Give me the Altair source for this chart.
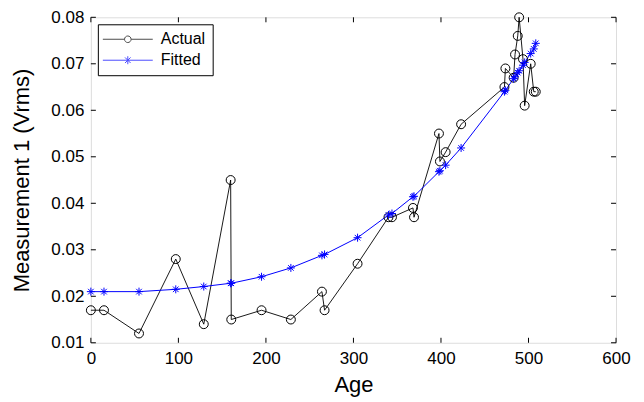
import altair as alt
import pandas as pd

# Data
age = [0, 15, 55, 97, 129, 159.7, 160.4, 195, 228.5, 264, 267, 304.7,
       340, 344, 368, 369.2, 397.7, 398.8, 405.3, 423,
       472.5, 473.6, 483, 484.6, 487.7, 489.3, 493.7, 495.6, 502.5, 506, 508.3]
actual = [0.017, 0.017, 0.012, 0.028, 0.014, 0.045, 0.015, 0.017, 0.015, 0.021, 0.017, 0.027,
          0.037, 0.037, 0.039, 0.037, 0.055, 0.049, 0.051, 0.057,
          0.065, 0.069, 0.067, 0.072, 0.076, 0.080, 0.071, 0.061, 0.070, 0.064, 0.064]
fitted = [0.0210, 0.0210, 0.0210, 0.0215, 0.0221, 0.0228, 0.0228, 0.0242, 0.0261, 0.0288, 0.0290, 0.0326,
          0.0375, 0.0378, 0.0414, 0.0415, 0.0468, 0.0470, 0.0482, 0.0519,
          0.0640, 0.0643, 0.0668, 0.0672, 0.0681, 0.0685, 0.0697, 0.0703, 0.0722, 0.0732, 0.0744]
series = ["Actual", "Fitted"]
x_ticks = [0, 100, 200, 300, 400, 500, 600]
y_ticks = [0.01, 0.02, 0.03, 0.04, 0.05, 0.06, 0.07, 0.08]

W, H = 526, 326
FONT = "Liberation Sans"

df_a = pd.DataFrame({"age": age, "value": actual, "idx": range(len(age))})
df_f = pd.DataFrame({"age": age, "value": fitted, "idx": range(len(age))})
df_leg = pd.DataFrame({"series": series})

xs = alt.Scale(domain=[0, 600], nice=False, zero=False)
ys = alt.Scale(domain=[0.01, 0.08], nice=False, zero=False)

STAR = "M-1,0L1,0M0,-1L0,1M-0.7,-0.7L0.7,0.7M-0.7,0.7L0.7,-0.7"
LEG_CIRCLE = ("M-3.57,0L-0.47,0M0.47,0L3.57,0"
              "M0.47,0A0.47,0.47 0 1,1 -0.47,0A0.47,0.47 0 1,1 0.47,0")
LEG_STAR = "M-3.57,0L3.57,0M0,-0.57L0,0.57M-0.4,-0.4L0.4,0.4M-0.4,0.4L0.4,-0.4"

x_axis = alt.Axis(title="Age", values=x_ticks, format="d", tickSize=0,
                  domain=False, grid=False, labelPadding=8, labelFlush=False,
                  labelFontSize=17, titleFontSize=22, titlePadding=8,
                  labelColor="black", titleColor="black",
                  titleFontWeight="normal", labelFont=FONT, titleFont=FONT)
y_axis = alt.Axis(title="Measurement 1 (Vrms)", values=y_ticks, format=".2f",
                  tickSize=0, domain=False, grid=False, labelPadding=7, labelFlush=False,
                  labelFontSize=17, titleFontSize=22, titlePadding=17,
                  labelColor="black", titleColor="black",
                  titleFontWeight="normal", labelFont=FONT, titleFont=FONT)


def X(field):
    return alt.X(field, scale=xs, axis=x_axis)


def Y(field):
    return alt.Y(field, scale=ys, axis=y_axis)


line_a = alt.Chart(df_a).mark_line(color="black", strokeWidth=0.9).encode(
    x=X("age:Q"), y=Y("value:Q"), order="idx:Q")
pts_a = alt.Chart(df_a).mark_point(filled=False, color="black", strokeWidth=1,
                                   size=80, shape="circle", opacity=1).encode(
    x=X("age:Q"), y=Y("value:Q"))
line_f = alt.Chart(df_f).mark_line(color="#0000ff", strokeWidth=1).encode(
    x=X("age:Q"), y=Y("value:Q"), order="idx:Q")
pts_f = alt.Chart(df_f).mark_point(filled=False, color="#0000ff", strokeWidth=1,
                                   size=64, shape=STAR, opacity=1).encode(
    x=X("age:Q"), y=Y("value:Q"))

legend = alt.Legend(
    title=None, orient="none", legendX=7, legendY=7,
    padding=7, strokeColor="black", fillColor="white",
    labelFont=FONT, labelFontSize=16, labelColor="black",
    symbolSize=196, symbolOffset=15, labelOffset=25, rowPadding=5,
    symbolStrokeWidth=1, symbolFillColor="transparent",
)

leg = alt.Chart(df_leg).transform_filter("false").mark_point(
    filled=False, strokeWidth=1, size=196).encode(
    color=alt.Color("series:N", scale=alt.Scale(domain=series, range=["black", "#0000ff"]),
                    legend=legend),
    shape=alt.Shape("series:N", scale=alt.Scale(domain=series, range=[LEG_CIRCLE, LEG_STAR]),
                    legend=legend),
)

xt = pd.DataFrame({"t": x_ticks})
yt = pd.DataFrame({"t": y_ticks})
TL = 5
tick_b = alt.Chart(xt).mark_rule(color="black", strokeWidth=1).encode(
    x=X("t:Q"), y=alt.value(H), y2=alt.value(H - TL))
tick_t = alt.Chart(xt).mark_rule(color="black", strokeWidth=1).encode(
    x=X("t:Q"), y=alt.value(0), y2=alt.value(TL))
tick_l = alt.Chart(yt).mark_rule(color="black", strokeWidth=1).encode(
    y=Y("t:Q"), x=alt.value(0), x2=alt.value(TL))
tick_r = alt.Chart(yt).mark_rule(color="black", strokeWidth=1).encode(
    y=Y("t:Q"), x=alt.value(W), x2=alt.value(W - TL))

chart = alt.layer(line_a, line_f, pts_a, pts_f, tick_b, tick_t, tick_l, tick_r, leg).properties(
    width=W, height=H,
    autosize=alt.AutoSizeParams(type="none"),
    padding={"left": 83, "top": 9, "right": 20, "bottom": 57},
).configure_view(stroke="black", strokeWidth=1.2).configure(font=FONT, background="white")

chart.save("out.html", embed_options={"renderer": "svg", "actions": False})
